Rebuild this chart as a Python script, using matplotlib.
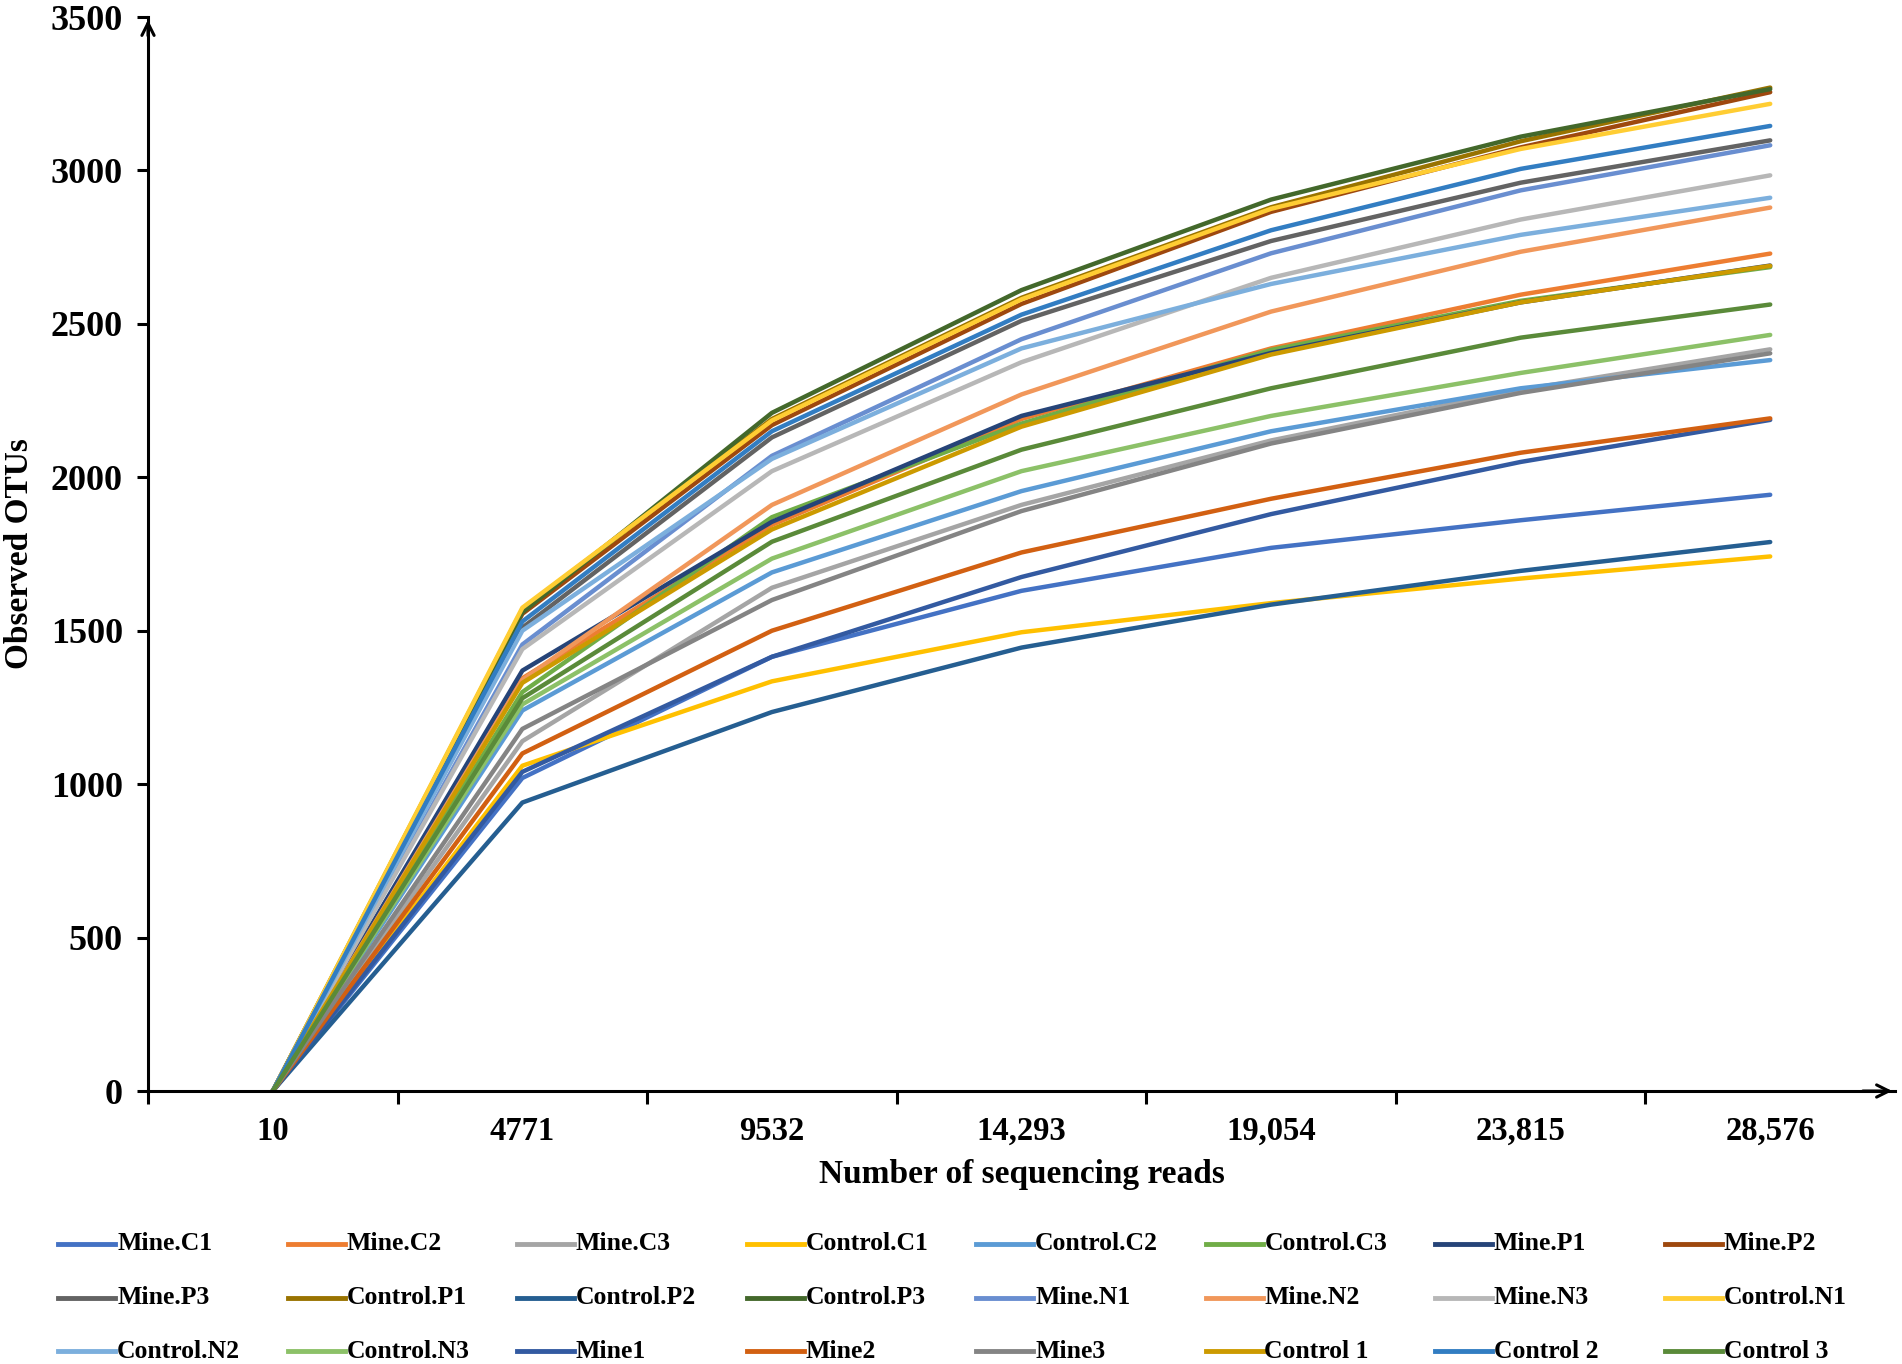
import matplotlib
matplotlib.use('Agg')
import matplotlib.pyplot as plt
from matplotlib.lines import Line2D


reads = ['10', '4771', '9532', '14,293', '19,054', '23,815', '28,576']

names = ['Mine.C1', 'Mine.C2', 'Mine.C3', 'Control.C1', 'Control.C2', 'Control.C3',
         'Mine.P1', 'Mine.P2', 'Mine.P3', 'Control.P1', 'Control.P2', 'Control.P3',
         'Mine.N1', 'Mine.N2', 'Mine.N3', 'Control.N1', 'Control.N2', 'Control.N3',
         'Mine1', 'Mine2', 'Mine3', 'Control 1', 'Control 2', 'Control 3']

mine_c1 = [0, 1020, 1415, 1630, 1770, 1860, 1943]
mine_c2 = [0, 1345, 1845, 2190, 2420, 2595, 2729]
mine_c3 = [0, 1140, 1640, 1910, 2120, 2285, 2417]
control_c1 = [0, 1060, 1335, 1495, 1590, 1670, 1742]
control_c2 = [0, 1240, 1690, 1955, 2150, 2290, 2382]
control_c3 = [0, 1300, 1870, 2175, 2415, 2575, 2685]
mine_p1 = [0, 1370, 1855, 2200, 2405, 2570, 2690]
mine_p2 = [0, 1555, 2170, 2565, 2865, 3075, 3255]
mine_p3 = [0, 1510, 2130, 2510, 2770, 2960, 3098]
control_p1 = [0, 1570, 2190, 2585, 2880, 3095, 3270]
control_p2 = [0, 940, 1235, 1445, 1585, 1695, 1789]
control_p3 = [0, 1560, 2210, 2610, 2905, 3110, 3265]
mine_n1 = [0, 1455, 2070, 2450, 2730, 2935, 3082]
mine_n2 = [0, 1340, 1910, 2270, 2540, 2735, 2879]
mine_n3 = [0, 1440, 2020, 2375, 2650, 2840, 2984]
control_n1 = [0, 1575, 2185, 2580, 2875, 3070, 3217]
control_n2 = [0, 1500, 2060, 2420, 2630, 2790, 2911]
control_n3 = [0, 1260, 1735, 2020, 2200, 2340, 2464]
mine1 = [0, 1040, 1415, 1675, 1880, 2050, 2187]
mine2 = [0, 1100, 1500, 1755, 1930, 2080, 2192]
mine3 = [0, 1180, 1600, 1890, 2110, 2275, 2404]
control1 = [0, 1330, 1830, 2165, 2400, 2570, 2689]
control2 = [0, 1530, 2150, 2530, 2805, 3005, 3145]
control3 = [0, 1280, 1790, 2090, 2290, 2455, 2563]

series = [mine_c1, mine_c2, mine_c3, control_c1, control_c2, control_c3,
          mine_p1, mine_p2, mine_p3, control_p1, control_p2, control_p3,
          mine_n1, mine_n2, mine_n3, control_n1, control_n2, control_n3,
          mine1, mine2, mine3, control1, control2, control3]

colors = ['#4472C4', '#ED7D31', '#A5A5A5', '#FFC000', '#5B9BD5', '#70AD47',
          '#264478', '#9E480E', '#636363', '#997300', '#255E91', '#43682B',
          '#698ED0', '#F1975A', '#B7B7B7', '#FFCD33', '#7CAFDD', '#8CC168',
          '#335AA1', '#D26012', '#848484', '#CC9A00', '#327DC2', '#5A8A39']

W, H = 1902, 1364


def main():
    plt.rcParams['font.family'] = ['Liberation Serif', 'DejaVu Serif']
    plt.rcParams['font.weight'] = 'bold'

    fig = plt.figure(figsize=(W / 100, H / 100), dpi=100)
    ax = fig.add_axes([148 / W, 1 - 1091 / H, (1895 - 148) / W, (1091 - 17) / H])

    xs = list(range(len(reads)))
    for name, vals, col in zip(names, series, colors):
        ax.plot(xs, vals, color=col, lw=3.2, label=name, solid_capstyle='round')

    ax.set_xlim(-0.5, 6.5)
    ax.set_ylim(0, 3500)
    ax.set_yticks(range(0, 3501, 500))
    ax.set_xticks(xs)
    ax.set_xticklabels(reads)
    ax.set_xticks([i - 0.5 for i in range(7)], minor=True)
    ax.tick_params(axis='x', which='major', length=0, labelsize=23.5, pad=18)
    ax.tick_params(axis='x', which='minor', length=9, width=2.2, direction='out')
    ax.tick_params(axis='y', length=8, width=2.2, labelsize=26, pad=10)
    for lab in ax.get_xticklabels() + ax.get_yticklabels():
        lab.set_fontweight('bold')

    for side in ['top', 'right']:
        ax.spines[side].set_visible(False)
    for side in ['left', 'bottom']:
        ax.spines[side].set_linewidth(2.2)

    # arrows at the axis ends
    ax.annotate('', xy=(1.0, 0), xytext=(0.98, 0), xycoords='axes fraction',
                arrowprops=dict(arrowstyle='->', lw=2.2, color='black', mutation_scale=22),
                annotation_clip=False)
    ax.annotate('', xy=(0, 1.0), xytext=(0, 0.98), xycoords='axes fraction',
                arrowprops=dict(arrowstyle='->', lw=2.2, color='black', mutation_scale=22),
                annotation_clip=False)

    ax.set_xlabel('Number of sequencing reads', fontsize=24, fontweight='bold', labelpad=9)
    fig.text(20 / W, 1 - 554 / H, 'Observed OTUs', rotation=90, fontsize=24,
             fontweight='bold', ha='center', va='center')

    # legend, row by row, eight entries per row
    for i, (name, col) in enumerate(zip(names, colors)):
        r, c = divmod(i, 8)
        x0 = (58 + 229.5 * c) / W
        y0 = 1 - (1244 + 53.5 * r) / H
        fig.add_artist(Line2D([x0, x0 + 57 / W], [y0, y0], color=col, lw=3.5,
                              transform=fig.transFigure))
        fig.text(x0 + 59 / W, y0, name, fontsize=18.5, fontweight='bold',
                 ha='left', va='center')

    fig.savefig('out.png', dpi=100)


if __name__ == '__main__':
    main()
